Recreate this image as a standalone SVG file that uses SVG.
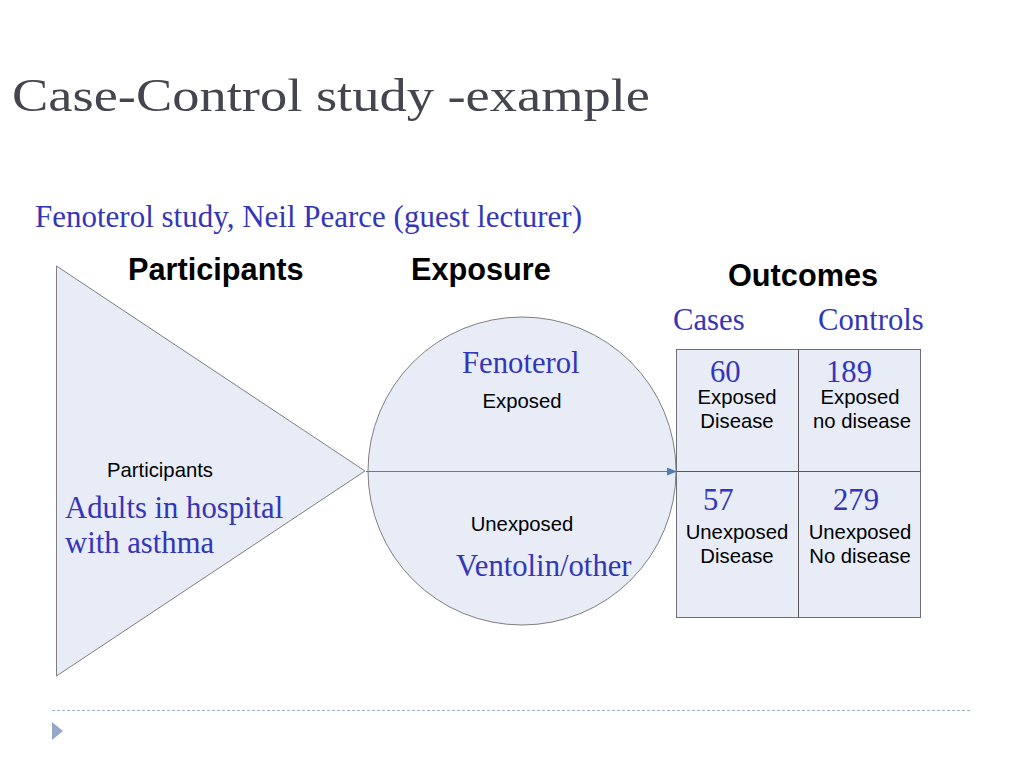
<svg xmlns="http://www.w3.org/2000/svg" width="1023" height="767" viewBox="0 0 1023 767">
<style>
.shape{fill:#e7ecf7;stroke:#7f7f7f;stroke-width:1}
.head{font-family:"Liberation Sans",Arial,sans-serif;font-weight:bold;font-size:30.7px;fill:#000}
.blue{font-family:"Liberation Serif","Times New Roman",serif;font-size:30.7px;fill:#3535b8}
.lbl{font-family:"Liberation Sans",Arial,sans-serif;font-size:20.3px;fill:#000}
.mid{text-anchor:middle}
</style>
<defs>
<marker id="arr" markerWidth="10" markerHeight="8" refX="9" refY="4" orient="auto" markerUnits="userSpaceOnUse">
<path d="M0,0 L10,4 L0,8 Z" fill="#4a7ebb"/>
</marker>
</defs>
<rect width="1023" height="767" fill="#fff"/>
<text x="12" y="111" font-family="'Liberation Serif','Times New Roman',serif" font-size="47" fill="#45454f" textLength="638" lengthAdjust="spacingAndGlyphs">Case-Control study -example</text>
<text class="blue" x="35" y="227" textLength="547" lengthAdjust="spacingAndGlyphs">Fenoterol study, Neil Pearce (guest lecturer)</text>
<text class="head" x="128" y="280">Participants</text>
<text class="head" x="411" y="280">Exposure</text>
<text class="head" x="728" y="286">Outcomes</text>
<text class="blue" x="673" y="330">Cases</text>
<text class="blue" x="818" y="330">Controls</text>
<g id="participants">
<polygon class="shape" points="56.5,266 365,471 56.5,676"/>
<text class="lbl" x="107" y="477">Participants</text>
<text class="blue" x="65" y="518">Adults in hospital</text>
<text class="blue" x="65" y="553">with asthma</text>
</g>
<g id="exposure">
<circle class="shape" cx="522" cy="471" r="154"/>
<text class="blue" x="462" y="373">Fenoterol</text>
<text class="lbl mid" x="522" y="408">Exposed</text>
<text class="lbl mid" x="522" y="531">Unexposed</text>
<text class="blue" x="456" y="576">Ventolin/other</text>
</g>
<g id="outcomes">
<rect x="676.5" y="349.5" width="244" height="268" fill="#e7ecf7" stroke="#6f6f6f"/>
<line x1="798.5" y1="349.5" x2="798.5" y2="617.5" stroke="#555"/>
<line x1="676.5" y1="471.5" x2="920.5" y2="471.5" stroke="#555"/>
<text class="blue" x="710" y="382">60</text>
<text class="lbl mid" x="737" y="404">Exposed</text>
<text class="lbl mid" x="737" y="428">Disease</text>
<text class="blue" x="826" y="382">189</text>
<text class="lbl mid" x="860" y="404">Exposed</text>
<text class="lbl mid" x="862" y="428">no disease</text>
<text class="blue" x="703" y="510">57</text>
<text class="lbl mid" x="737" y="539">Unexposed</text>
<text class="lbl mid" x="737" y="563">Disease</text>
<text class="blue" x="833" y="510">279</text>
<text class="lbl mid" x="860" y="539">Unexposed</text>
<text class="lbl mid" x="860" y="563">No disease</text>
</g>
<g id="connectors">
<line x1="366" y1="471.5" x2="676" y2="471.5" stroke="#4a7ebb" stroke-width="1" marker-end="url(#arr)"/>
</g>
<line x1="52" y1="710.5" x2="971" y2="710.5" stroke="#9fb2cc" stroke-width="1" stroke-dasharray="3,2"/>
<polygon points="52,722 63,731 52,740" fill="#94a9c9"/>
</svg>
